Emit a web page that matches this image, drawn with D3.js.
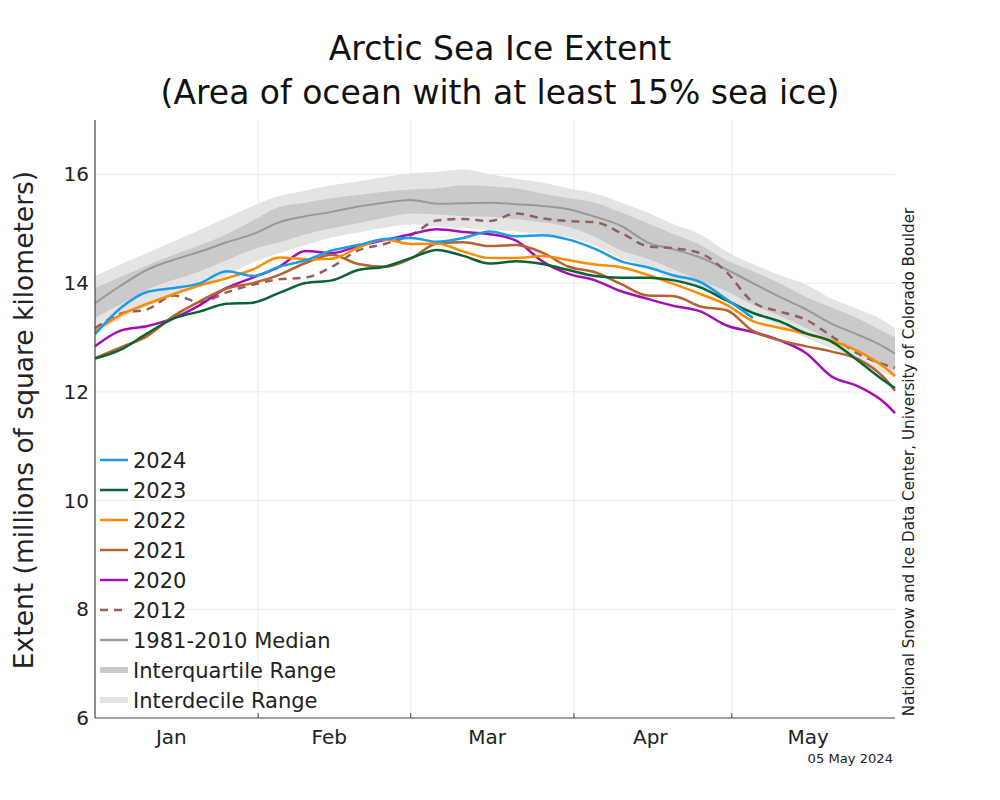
<!DOCTYPE html>
<html>
<head>
<meta charset="utf-8">
<script src="https://cdn.jsdelivr.net/npm/d3@7"></script>
<style>
  html, body { margin: 0; padding: 0; background: #fff; }
  svg { display: block; font-family: "DejaVu Sans", sans-serif; }
</style>
</head>
<body>
<svg id="chart" width="1000" height="800"></svg>
<script>
// ---- data (day of year, 0 = Jan 1, 2024 leap year) ----
const days = [0,5,10,15,20,25,30,35,40,45,50,55,60,65,70,75,80,85,90,95,100,105,110,115,120,125,130,135,140,145,150,152];

const median = [13.63,13.96,14.25,14.43,14.58,14.75,14.90,15.12,15.23,15.31,15.41,15.48,15.53,15.46,15.47,15.48,15.45,15.42,15.36,15.22,15.05,14.75,14.62,14.47,14.25,14.00,13.75,13.52,13.25,13.05,12.82,12.70];
const p90 = [14.13,14.35,14.56,14.77,14.98,15.20,15.42,15.60,15.70,15.80,15.87,15.95,16.02,16.05,16.09,16.00,15.92,15.85,15.74,15.65,15.48,15.30,15.08,14.90,14.58,14.35,14.15,13.98,13.71,13.52,13.30,13.17];
const p75 = [13.91,14.12,14.33,14.52,14.70,14.90,15.15,15.40,15.48,15.56,15.62,15.68,15.72,15.74,15.80,15.78,15.74,15.65,15.56,15.48,15.30,15.10,14.90,14.70,14.42,14.22,14.00,13.75,13.55,13.35,13.10,13.00];
const p25 = [13.36,13.62,13.88,14.06,14.22,14.42,14.62,14.75,14.90,15.01,15.10,15.20,15.28,15.26,15.23,15.22,15.18,15.12,15.03,14.85,14.60,14.45,14.25,14.05,13.85,13.60,13.40,13.18,12.94,12.72,12.48,12.39];
const p10 = [13.06,13.35,13.58,13.76,13.95,14.15,14.38,14.55,14.70,14.84,14.93,15.02,15.08,15.04,15.01,14.98,14.95,14.90,14.84,14.70,14.45,14.30,14.05,13.90,13.70,13.45,13.22,13.00,12.80,12.58,12.34,12.26];

const y2024 = [13.06,13.55,13.84,13.91,14.00,14.22,14.13,14.30,14.42,14.60,14.70,14.81,14.83,14.76,14.83,14.95,14.86,14.88,14.80,14.63,14.40,14.29,14.14,14.02,13.70,13.36];
const y2023 = [12.61,12.78,13.08,13.35,13.48,13.62,13.64,13.82,14.00,14.05,14.24,14.30,14.46,14.61,14.50,14.36,14.40,14.35,14.24,14.13,14.10,14.10,14.05,13.92,13.68,13.45,13.30,13.08,12.92,12.57,12.20,12.07];
const y2022 = [13.12,13.42,13.62,13.80,13.96,14.09,14.25,14.47,14.44,14.45,14.65,14.80,14.72,14.73,14.58,14.46,14.46,14.50,14.42,14.34,14.29,14.15,13.98,13.80,13.60,13.30,13.18,13.07,12.94,12.75,12.45,12.29];
const y2021 = [12.62,12.82,13.03,13.40,13.67,13.90,14.00,14.15,14.37,14.52,14.35,14.30,14.45,14.73,14.75,14.68,14.70,14.56,14.30,14.20,13.98,13.77,13.76,13.57,13.50,13.12,12.95,12.84,12.74,12.60,12.25,12.02];
const y2020 = [12.84,13.13,13.21,13.36,13.60,13.91,14.10,14.30,14.59,14.55,14.68,14.79,14.90,14.99,14.94,14.90,14.78,14.40,14.17,14.05,13.85,13.71,13.58,13.48,13.22,13.10,12.95,12.72,12.28,12.10,11.80,11.61];
const y2012 = [13.17,13.44,13.52,13.77,13.65,13.83,13.97,14.07,14.10,14.30,14.60,14.72,14.88,15.15,15.18,15.14,15.28,15.19,15.14,15.12,14.92,14.68,14.64,14.55,14.20,13.65,13.48,13.33,13.02,12.70,12.50,12.44];

const yTicks = [6,8,10,12,14,16];
const monthNames = ["Jan","Feb","Mar","Apr","May"];
const monthStarts = [31,60,91,121];
const monthLabelDays = [14.5,44.5,74.5,105.5,135.5];

const seriesNames = ["2024","2023","2022","2021","2020","2012"];
const seriesValues = [y2024,y2023,y2022,y2021,y2020,y2012];
const seriesColors = ["#1c9ce6","#0a6332","#ff8c00","#b5622f","#a40fb5","#93605a"];

// ---- layout ----
const svg = d3.select("#chart");
const L = 95, R = 895, T = 120, B = 718;
const x = d3.scaleLinear().domain([0,152]).range([L,R]);
const y = d3.scaleLinear().domain([6,17]).range([B,T]);

// gridlines
svg.append("g").selectAll("line.h").data(yTicks.filter(v=>v>6)).join("line")
  .attr("x1",L).attr("x2",R).attr("y1",d=>y(d)).attr("y2",d=>y(d))
  .attr("stroke","#ebebeb").attr("stroke-width",1);
svg.append("g").selectAll("line.v").data(monthStarts).join("line")
  .attr("x1",d=>x(d)).attr("x2",d=>x(d)).attr("y1",T).attr("y2",B)
  .attr("stroke","#ebebeb").attr("stroke-width",1);

// bands
const idx = days.map((d,i)=>i);
const area = (lo,hi) => d3.area().x(i=>x(days[i])).y0(i=>y(lo[i])).y1(i=>y(hi[i])).curve(d3.curveMonotoneX);
svg.append("path").attr("d",area(p10,p90)(idx)).attr("fill","#e4e4e4");
svg.append("path").attr("d",area(p25,p75)(idx)).attr("fill","#cacaca");

// median
const line = vals => d3.line().x(i=>x(days[i])).y(i=>y(vals[i])).curve(d3.curveMonotoneX)(vals.map((v,i)=>i));
svg.append("path").attr("d",line(median)).attr("fill","none").attr("stroke","#999").attr("stroke-width",2);

// years (draw older first)
for (let k = seriesNames.length-1; k >= 0; k--) {
  const p = svg.append("path").attr("d",line(seriesValues[k])).attr("fill","none")
    .attr("stroke",seriesColors[k]).attr("stroke-width",2.5).attr("stroke-linejoin","round");
  if (seriesNames[k]==="2012") p.attr("stroke-dasharray","8,6");
}

// axes spines
svg.append("line").attr("x1",L).attr("x2",L).attr("y1",T).attr("y2",B).attr("stroke","#444").attr("stroke-width",1.2);
svg.append("line").attr("x1",L).attr("x2",R).attr("y1",B).attr("y2",B).attr("stroke","#444").attr("stroke-width",1.2);

// x ticks
svg.append("g").selectAll("line").data(monthStarts).join("line")
  .attr("x1",d=>x(d)).attr("x2",d=>x(d)).attr("y1",B).attr("y2",B-5).attr("stroke","#444");
svg.append("g").selectAll("text").data(monthNames).join("text")
  .attr("x",(d,i)=>x(monthLabelDays[i])).attr("y",B+26).attr("text-anchor","middle")
  .attr("font-size",20).attr("fill","#222").text(d=>d);

// y ticks
svg.append("g").selectAll("text").data(yTicks).join("text")
  .attr("x",L-6).attr("y",d=>y(d)+7).attr("text-anchor","end")
  .attr("font-size",20).attr("fill","#222").text(d=>d);

// titles
svg.append("text").attr("x",500).attr("y",60).attr("text-anchor","middle").attr("font-size",33).attr("fill","#111").text("Arctic Sea Ice Extent");
svg.append("text").attr("x",500).attr("y",104).attr("text-anchor","middle").attr("font-size",33).attr("fill","#111").text("(Area of ocean with at least 15% sea ice)");

svg.append("text").attr("transform","translate(33,420) rotate(-90)").attr("text-anchor","middle")
  .attr("font-size",26.5).attr("fill","#222").text("Extent (millions of square kilometers)");

svg.append("text").attr("transform","translate(914,462) rotate(-90)").attr("text-anchor","middle")
  .attr("font-size",15.2).attr("fill","#222").text("National Snow and Ice Data Center, University of Colorado Boulder");

svg.append("text").attr("x",893).attr("y",763).attr("text-anchor","end").attr("font-size",13.1).attr("fill","#222").text("05 May 2024");

// legend
const legendItems = seriesNames.map((n,i)=>({name:n,color:seriesColors[i],w:2.5,dash:n==="2012"?"8,6":null}))
  .concat([{name:"1981-2010 Median",color:"#999",w:2.5,dash:null},
           {name:"Interquartile Range",color:"#cacaca",w:6,dash:null},
           {name:"Interdecile Range",color:"#e4e4e4",w:6,dash:null}]);
const lg = svg.append("g").selectAll("g").data(legendItems).join("g")
  .attr("transform",(d,i)=>`translate(0,${460+i*30})`);
lg.append("line").attr("x1",100).attr("x2",128).attr("y1",0).attr("y2",0)
  .attr("stroke",d=>d.color).attr("stroke-width",d=>d.w).attr("stroke-dasharray",d=>d.dash);
lg.append("text").attr("x",133).attr("y",7.5).attr("font-size",21).attr("fill","#222").text(d=>d.name);
</script>
</body>
</html>
